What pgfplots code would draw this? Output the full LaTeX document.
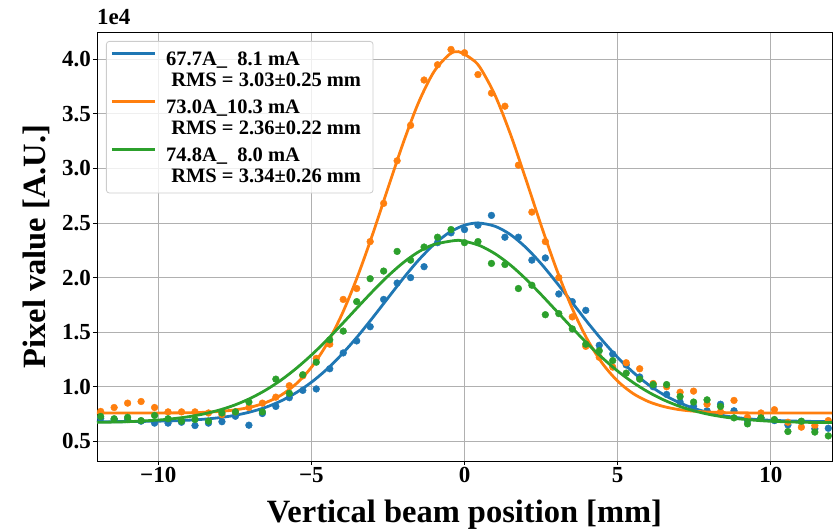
\documentclass[border=0pt]{standalone}
\usepackage{pgfplots}
\pgfplotsset{compat=1.18}
\usepackage{fontspec}
\setmainfont{Liberation Serif}
\definecolor{c1}{HTML}{1F77B4}
\definecolor{c2}{HTML}{FF7F0E}
\definecolor{c3}{HTML}{2CA02C}
\definecolor{gridc}{HTML}{B0B0B0}
\definecolor{legc}{HTML}{CCCCCC}
\newsavebox{\legA}\newsavebox{\legB}\newsavebox{\legC}
\newcommand{\lentry}[2]{\fontsize{20.5}{21}\selectfont\bfseries\begin{tabular}[b]{@{}l@{\hspace{6pt}}}#1\\\hspace*{0.25em}#2\end{tabular}}
\begin{document}
\sbox{\legA}{\lentry{67.7A\_\phantom{1}8.1 mA}{RMS = 3.03±0.25 mm}}\dp\legA=0pt
\sbox{\legB}{\lentry{73.0A\_10.3 mA}{RMS = 2.36±0.22 mm}}\dp\legB=0pt
\sbox{\legC}{\lentry{74.8A\_\phantom{1}8.0 mA}{RMS = 3.34±0.26 mm}}\dp\legC=0pt
\begin{tikzpicture}
\path[use as bounding box] (-97pt,-68pt) rectangle (742pt,461pt);
\begin{axis}[
  at={(0pt,0pt)}, anchor=south west,
  scale only axis, width=735pt, height=429pt,
  xmin=-12, xmax=12, ymin=0.32, ymax=4.25,
  clip mode=individual,
  axis line style={black, line width=0.9pt},
  tick pos=left, tick align=outside, major tick length=4pt,
  tick style={black, line width=0.9pt},
  grid=major, major grid style={gridc, line width=1pt},
  xtick={-10,-5,0,5,10},
  xticklabels={−10,−5,0,5,10},
  ytick={0.5,1,1.5,2,2.5,3,3.5,4},
  yticklabels={0.5,1.0,1.5,2.0,2.5,3.0,3.5,4.0},
  ticklabel style={font=\fontsize{23}{23}\selectfont\bfseries},
  xticklabel style={inner sep=2pt},
  yticklabel style={inner sep=2pt},
  every axis x label/.style={at={(axis description cs:0.5,-0.1445)}, anchor=base},
  every axis y label/.style={at={(axis description cs:-0.0707,0.5)}, rotate=90, anchor=base},
  label style={font=\fontsize{32.5}{36}\selectfont\bfseries},
  xlabel={Vertical beam position [mm]},
  ylabel={Pixel value [A.U.]},
  legend cell align=left,
  legend image code/.code={\draw[#1, line width=2.8pt] (0pt,15.5pt) -- (43pt,15.5pt);},
  legend style={at={(axis description cs:0.0122,0.979)}, anchor=north west,
    draw=legc, line width=0.8pt, fill=white, fill opacity=0.8, text opacity=1, rounded corners=3pt,
    inner xsep=4pt, inner ysep=7pt, row sep=7pt, column sep=8pt, nodes={inner sep=2pt}},
]
% blue data
\addplot[only marks, mark=*, c1, mark size=3.4pt, forget plot] coordinates {
(-11.88,0.71)(-11.44,0.70)(-11.00,0.70)(-10.56,0.685)(-10.12,0.667)(-9.68,0.667)(-9.24,0.675)(-8.80,0.645)(-8.36,0.667)(-7.92,0.68)
(-7.48,0.73)(-7.04,0.648)(-6.60,0.755)(-6.16,0.82)(-5.72,0.90)(-5.28,0.967)(-4.84,0.98)(-4.40,1.165)(-3.96,1.31)(-3.52,1.42)
(-3.08,1.55)(-2.64,1.80)(-2.20,1.95)(-1.76,2.00)(-1.32,2.10)(-0.88,2.32)(-0.44,2.41)(0,2.44)(0.44,2.48)(0.88,2.57)
(1.32,2.37)(1.76,2.37)(2.20,2.16)(2.64,2.18)(3.08,1.85)(3.52,1.78)(3.96,1.70)(4.40,1.38)(4.84,1.30)(5.28,1.20)
(5.72,1.09)(6.16,1.00)(6.60,0.93)(7.04,0.86)(7.48,0.82)(7.92,0.78)(8.36,0.84)(8.80,0.78)(9.24,0.69)(9.68,0.715)
(10.12,0.69)(10.56,0.65)(11.00,0.68)(11.44,0.615)(11.88,0.62)};
\addplot[c1, line width=2.8pt, smooth] coordinates {
(-12,0.680)(-11,0.681)(-10,0.685)(-9.5,0.688)(-9,0.694)(-8.5,0.703)(-8,0.717)(-7.5,0.738)(-7,0.769)(-6.5,0.811)
(-6,0.869)(-5.5,0.945)(-5,1.041)(-4.5,1.159)(-4,1.299)(-3.5,1.458)(-3,1.632)(-2.5,1.813)(-2,1.993)(-1.5,2.160)
(-1,2.303)(-0.5,2.413)(0,2.480)(0.45,2.500)(1,2.470)(1.5,2.394)(2,2.277)(2.5,2.128)(3,1.957)(3.5,1.777)
(4,1.596)(4.5,1.425)(5,1.269)(5.5,1.134)(6,1.020)(6.5,0.928)(7,0.856)(7.5,0.801)(8,0.762)(8.5,0.733)
(9,0.714)(9.5,0.701)(10,0.693)(11,0.684)(12,0.681)};
\addlegendentry{\usebox{\legA}}
% orange data
\addplot[only marks, mark=*, c2, mark size=3.4pt, forget plot] coordinates {
(-11.88,0.774)(-11.44,0.81)(-11.00,0.85)(-10.56,0.865)(-10.12,0.81)(-9.68,0.77)(-9.24,0.77)(-8.80,0.77)(-8.36,0.76)(-7.92,0.745)
(-7.48,0.77)(-7.04,0.81)(-6.60,0.85)(-6.16,0.905)(-5.72,1.01)(-5.28,1.10)(-4.84,1.26)(-4.40,1.39)(-3.96,1.80)(-3.52,1.90)
(-3.08,2.33)(-2.64,2.68)(-2.20,3.07)(-1.76,3.395)(-1.32,3.81)(-0.88,3.95)(-0.44,4.09)(0,4.06)(0.44,3.86)(0.88,3.69)
(1.32,3.57)(1.76,3.03)(2.20,2.60)(2.64,2.33)(3.08,2.00)(3.52,1.64)(3.96,1.37)(4.40,1.27)(4.84,1.18)(5.28,1.22)
(5.72,1.165)(6.16,1.03)(6.60,1.00)(7.04,0.95)(7.48,0.96)(7.92,0.84)(8.36,0.77)(8.80,0.875)(9.24,0.72)(9.68,0.76)
(10.12,0.79)(10.56,0.675)(11.00,0.63)(11.44,0.645)(11.88,0.69)};
\addplot[c2, line width=2.8pt, smooth] coordinates {
(-12,0.760)(-10,0.760)(-9,0.762)(-8.5,0.766)(-8,0.774)(-7.5,0.788)(-7,0.812)(-6.5,0.854)(-6,0.921)(-5.5,1.026)
(-5,1.178)(-4.5,1.389)(-4,1.665)(-3.5,2.005)(-3,2.397)(-2.5,2.819)(-2,3.235)(-1.5,3.604)(-1,3.885)(-0.5,4.043)
(-0.2,4.070)(0.2,4.010)(0.5,3.928)(1,3.669)(1.5,3.314)(2,2.904)(2.5,2.480)(3,2.080)(3.5,1.729)(4,1.439)
(4.5,1.215)(5,1.052)(5.5,0.939)(6,0.865)(6.5,0.819)(7,0.791)(7.5,0.776)(8,0.768)(8.5,0.763)(9,0.761)
(10,0.760)(12,0.760)};
\addlegendentry{\usebox{\legB}}
% green data
\addplot[only marks, mark=*, c3, mark size=3.4pt, forget plot] coordinates {
(-11.88,0.728)(-11.44,0.707)(-11.00,0.72)(-10.56,0.69)(-10.12,0.737)(-9.68,0.707)(-9.24,0.685)(-8.80,0.70)(-8.36,0.685)(-7.92,0.76)
(-7.48,0.77)(-7.04,0.86)(-6.60,0.77)(-6.16,1.07)(-5.72,0.94)(-5.28,1.11)(-4.84,1.225)(-4.40,1.43)(-3.96,1.51)(-3.52,1.78)
(-3.08,1.99)(-2.64,2.06)(-2.20,2.24)(-1.76,2.16)(-1.32,2.28)(-0.88,2.37)(-0.44,2.44)(0,2.32)(0.44,2.33)(0.88,2.13)
(1.32,2.12)(1.76,1.90)(2.20,1.93)(2.64,1.66)(3.08,1.67)(3.52,1.53)(3.96,1.39)(4.40,1.33)(4.84,1.24)(5.28,1.125)
(5.72,1.07)(6.16,1.02)(6.60,1.02)(7.04,0.91)(7.48,0.86)(7.92,0.88)(8.36,0.82)(8.80,0.715)(9.24,0.66)(9.68,0.715)
(10.12,0.70)(10.56,0.59)(11.00,0.685)(11.44,0.585)(11.88,0.55)};
\addplot[c3, line width=2.8pt, smooth] coordinates {
(-12,0.674)(-11,0.680)(-10,0.695)(-9.5,0.708)(-9,0.726)(-8.5,0.752)(-8,0.787)(-7.5,0.833)(-7,0.893)(-6.5,0.968)
(-6,1.059)(-5.5,1.167)(-5,1.290)(-4.5,1.427)(-4,1.574)(-3.5,1.725)(-3,1.874)(-2.5,2.014)(-2,2.137)(-1.5,2.236)
(-1,2.303)(-0.3,2.340)(0,2.333)(0.5,2.293)(1,2.218)(1.5,2.115)(2,1.988)(2.5,1.845)(3,1.695)(3.5,1.544)
(4,1.399)(4.5,1.265)(5,1.144)(5.5,1.040)(6,0.952)(6.5,0.880)(7,0.823)(7.5,0.779)(8,0.746)(8.5,0.722)
(9,0.705)(9.5,0.693)(10,0.684)(11,0.675)(12,0.672)};
\addlegendentry{\usebox{\legC}}
\node[anchor=base west, inner sep=0pt, font=\fontsize{23}{23}\selectfont\bfseries] at ([yshift=7pt]rel axis cs:0,1) {1e4};
\end{axis}
\end{tikzpicture}
\end{document}
